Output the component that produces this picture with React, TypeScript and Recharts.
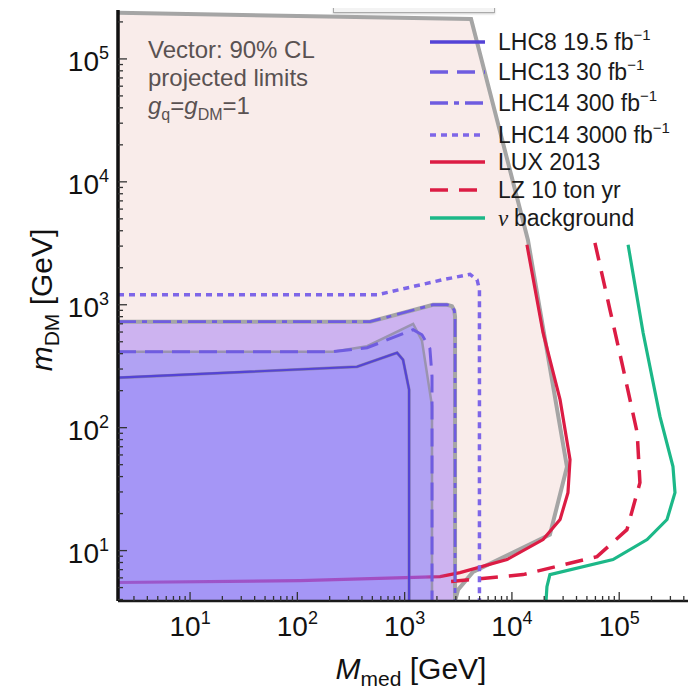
import React from 'react';
import { ComposedChart, Area, Line, XAxis, YAxis } from 'recharts';

// ---- axis ranges & ticks ----
const X_MIN = 2.13;
const X_MAX = 1e6;
const Y_MIN = 3.89;
const Y_MAX = 2.5e5;
const MAJOR_TICKS = [10, 100, 1000, 10000, 100000];
const TICK_EXPONENTS = ['1', '2', '3', '4', '5'];
const MINOR_MULTIPLIERS = [2, 3, 4, 5, 6, 7, 8, 9];
const DECADES = [1, 10, 100, 1000, 10000, 100000];

// ---- data (M_med [GeV], m_DM [GeV]) ----
const allowedRegion = [
  { x: 2.13, y: 2.37e5 }, { x: 4160, y: 2.11e5 }, { x: 14100, y: 3370 }, { x: 32600, y: 48 },
  { x: 22600, y: 13.5 }, { x: 4340, y: 6.7 }, { x: 3150, y: 4.8 }, { x: 2950, y: 3.89 },
];
const lhc14_300 = [
  { x: 2.13, y: 728 }, { x: 476, y: 728 }, { x: 1840, y: 1000 }, { x: 2480, y: 1000 },
  { x: 2760, y: 975 }, { x: 2900, y: 900 }, { x: 2950, y: 800 }, { x: 2950, y: 3.89 },
];
const lhc13Region = [
  { x: 2.13, y: 415 }, { x: 215, y: 415 }, { x: 447, y: 460 }, { x: 1200, y: 700 },
  { x: 1450, y: 510 }, { x: 1800, y: 150 }, { x: 1800, y: 3.89 },
];
const lhc13 = [
  { x: 2.13, y: 415 }, { x: 215, y: 415 }, { x: 447, y: 447 }, { x: 1200, y: 627 },
  { x: 1450, y: 570 }, { x: 1720, y: 440 }, { x: 1800, y: 260 }, { x: 1800, y: 3.89 },
];
const lhc8 = [
  { x: 2.13, y: 255 }, { x: 360, y: 313 }, { x: 850, y: 407 }, { x: 966, y: 357 },
  { x: 1100, y: 204 }, { x: 1100, y: 3.89 },
];
const lhc14_3000 = [
  { x: 2.13, y: 1205 }, { x: 553, y: 1205 }, { x: 2280, y: 1600 }, { x: 4070, y: 1770 },
  { x: 4730, y: 1600 }, { x: 4980, y: 1330 }, { x: 4980, y: 3.89 },
];
const lux2013 = [
  { x: 13800, y: 3080 }, { x: 19500, y: 592 }, { x: 28100, y: 169 }, { x: 34800, y: 55 },
  { x: 33300, y: 29.6 }, { x: 28100, y: 17.9 }, { x: 19500, y: 12.3 }, { x: 9000, y: 8.45 },
  { x: 3280, y: 6.62 }, { x: 2140, y: 6.15 }, { x: 106, y: 5.7 }, { x: 2.13, y: 5.5 },
];
const lz10 = [
  { x: 59400, y: 3190 }, { x: 82000, y: 910 }, { x: 108000, y: 313 }, { x: 147000, y: 91 },
  { x: 156000, y: 35.7 }, { x: 118000, y: 14.8 }, { x: 62100, y: 8.93 }, { x: 12700, y: 6.38 },
  { x: 2650, y: 5.6 },
];
const nuBackground = [
  { x: 121000, y: 3080 }, { x: 167000, y: 592 }, { x: 240000, y: 123 }, { x: 317000, y: 48.2 },
  { x: 331000, y: 29.6 }, { x: 279000, y: 17.9 }, { x: 182000, y: 12.3 }, { x: 87500, y: 8.45 },
  { x: 22600, y: 6.38 }, { x: 21200, y: 5.09 }, { x: 20800, y: 3.89 },
];

const LEGEND_LABELS = ['LHC8 19.5 fb', 'LHC13 30 fb', 'LHC14 300 fb', 'LHC14 3000 fb', 'LUX 2013', 'LZ 10 ton yr', 'background'];
const INFO_LINES = ['Vector: 90% CL', 'projected limits'];

// ---- styles ----
const FONT = '"Liberation Sans", Arial, Helvetica, sans-serif';
const PURPLE_DARK = '#5443d6';
const PURPLE = '#6f5ce0';
const PURPLE_LIGHT = '#7e66e8';
const RED = '#dc1c44';
const GREEN = '#1cb888';
const GRAY = '#a5a5a5';

const LEGEND_STYLES = [
  { color: PURPLE_DARK, dash: undefined },
  { color: PURPLE, dash: '18 9' },
  { color: PURPLE, dash: '18 6 5 6' },
  { color: PURPLE_LIGHT, dash: '6 5' },
  { color: RED, dash: undefined },
  { color: RED, dash: '18 11' },
  { color: GREEN, dash: undefined },
];

function buildTicks(lo: number, hi: number) {
  const out: number[] = [];
  DECADES.forEach((d) => {
    if (d >= lo && d <= hi) out.push(d);
    MINOR_MULTIPLIERS.forEach((m) => {
      const v = m * d;
      if (v >= lo && v <= hi) out.push(v);
    });
  });
  return out;
}
const X_TICKS = buildTicks(X_MIN, X_MAX);
const Y_TICKS = buildTicks(Y_MIN, Y_MAX);

const majorIndex = (v: number) => MAJOR_TICKS.findIndex((t) => Math.abs(t - v) / t < 1e-6);

const BottomTick = (props: any) => {
  const { x, y, payload } = props;
  const i = majorIndex(payload.value);
  return (
    <g>
      <line x1={x} x2={x} y1={y} y2={y - (i >= 0 ? 9 : 5)} stroke="#333" strokeWidth={1.3} />
      {i >= 0 && (
        <text x={x} y={y + 35} textAnchor="middle" fontFamily={FONT} fontSize={28} fill="#111">
          10<tspan dy={-12} fontSize={18}>{TICK_EXPONENTS[i]}</tspan>
        </text>
      )}
    </g>
  );
};

const TopTick = (props: any) => {
  const { x, y, payload } = props;
  const i = majorIndex(payload.value);
  return <line x1={x} x2={x} y1={y} y2={y + (i >= 0 ? 9 : 5)} stroke="#555" strokeWidth={1.3} />;
};

const LeftTick = (props: any) => {
  const { x, y, payload } = props;
  const i = majorIndex(payload.value);
  return (
    <g>
      <line x1={x} x2={x + (i >= 0 ? 9 : 5)} y1={y} y2={y} stroke="#333" strokeWidth={1.3} />
      {i >= 0 && (
        <text x={x - 9} y={y + 12} textAnchor="end" fontFamily={FONT} fontSize={28} fill="#111">
          10<tspan dy={-12} fontSize={18}>{TICK_EXPONENTS[i]}</tspan>
        </text>
      )}
    </g>
  );
};

const Overlay = () => (
  <svg width={688} height={688} style={{ position: 'absolute', left: 0, top: 0, pointerEvents: 'none' }}>
    <g fontFamily={FONT}>
      <text x={140} y={50} fontSize={24} fill="#5a5252">{INFO_LINES[0]}</text>
      <text x={140} y={78} fontSize={24} fill="#5a5252">{INFO_LINES[1]}</text>
      <text x={140} y={106} fontSize={24} fill="#5a5252">
        <tspan fontStyle="italic">g</tspan>
        <tspan dy={6} fontSize={16}>q</tspan>
        <tspan dy={-6}>=</tspan>
        <tspan fontStyle="italic">g</tspan>
        <tspan dy={6} fontSize={16}>DM</tspan>
        <tspan dy={-6}>=1</tspan>
      </text>
      {LEGEND_LABELS.map((lab, i) => {
        const cy = [34, 64, 95, 127, 154, 182, 210][i];
        const st = LEGEND_STYLES[i];
        return (
          <g key={lab}>
            <line x1={422} x2={477} y1={cy} y2={cy} stroke={st.color} strokeWidth={3.5} strokeDasharray={st.dash} />
            <text x={490} y={cy + 8} fontSize={23} fill="#1a1a1a">
              {i === 6 && <tspan fontStyle="italic" fontFamily='"Liberation Serif", serif'>ν </tspan>}
              {lab}
              {i < 4 && <tspan dy={-10} fontSize={15}>−1</tspan>}
            </text>
          </g>
        );
      })}
      <text x={403} y={671} textAnchor="middle" fontSize={30} fill="#111">
        <tspan fontStyle="italic">M</tspan>
        <tspan dy={7} fontSize={21}>med</tspan>
        <tspan dy={-7}> [GeV]</tspan>
      </text>
      <text transform="translate(44,292) rotate(-90)" textAnchor="middle" fontSize={30} fill="#111">
        <tspan fontStyle="italic">m</tspan>
        <tspan dy={7} fontSize={21}>DM</tspan>
        <tspan dy={-7}> [GeV]</tspan>
      </text>
    </g>
  </svg>
);

export default function App() {
  return (
    <div style={{ position: 'relative', width: 688, height: 688 }}>
      <div style={{ width: 688, height: 688, overflow: 'hidden' }}>
        <ComposedChart width={720} height={688} margin={{ top: 2, right: 1.5, bottom: 0, left: 0 }}>
          <defs>
            <linearGradient id="luxGrad" x1="0" x2="1" y1="0" y2="0">
              <stop offset="0" stopColor="#9a58cc" />
              <stop offset="0.68" stopColor="#a44cc0" />
              <stop offset="0.73" stopColor={RED} />
              <stop offset="1" stopColor={RED} />
            </linearGradient>
          </defs>
          <XAxis
            xAxisId={0} dataKey="x" type="number" scale="log" domain={[X_MIN, X_MAX]} allowDataOverflow
            ticks={X_TICKS} interval={0} tick={<BottomTick />} tickLine={false} tickSize={0} tickMargin={0}
            height={95} axisLine={{ stroke: '#1a1a1a', strokeWidth: 2.5 }}
          />
          <XAxis
            xAxisId="top" orientation="top" dataKey="x" type="number" scale="log" domain={[X_MIN, X_MAX]}
            allowDataOverflow ticks={X_TICKS} interval={0} tick={<TopTick />} tickLine={false} tickSize={0}
            tickMargin={0} height={0} axisLine={{ stroke: '#666', strokeWidth: 2 }}
          />
          <YAxis
            dataKey="y" type="number" scale="log" domain={[Y_MIN, Y_MAX]} allowDataOverflow
            ticks={Y_TICKS} interval={0} tick={<LeftTick />} tickLine={false} tickSize={0} tickMargin={0}
            width={110} axisLine={{ stroke: '#111', strokeWidth: 3.5 }}
          />
          <Area data={allowedRegion} dataKey="y" type="linear" baseValue={Y_MIN} fill="#f9ecea" fillOpacity={1}
            stroke={GRAY} strokeWidth={4} isAnimationActive={false} />
          <Area data={lhc14_300} dataKey="y" type="linear" baseValue={Y_MIN} fill="#cdb3f0" fillOpacity={1}
            stroke={GRAY} strokeWidth={4} isAnimationActive={false} />
          <Area data={lhc13Region} dataKey="y" type="linear" baseValue={Y_MIN} fill="#b1a2f3" fillOpacity={1}
            stroke="#9a93b0" strokeWidth={2.5} isAnimationActive={false} />
          <Area data={lhc8} dataKey="y" type="linear" baseValue={Y_MIN} fill="#a596f6" fillOpacity={1}
            stroke="#8a82a8" strokeWidth={3} isAnimationActive={false} />
          <Line data={lux2013} dataKey="y" type="linear" stroke="url(#luxGrad)" strokeWidth={3.2} dot={false} isAnimationActive={false} />
          <Line data={lz10} dataKey="y" type="linear" stroke={RED} strokeWidth={3.5} strokeDasharray="18 11" dot={false} isAnimationActive={false} />
          <Line data={nuBackground} dataKey="y" type="linear" stroke={GREEN} strokeWidth={3.2} dot={false} isAnimationActive={false} />
          <Line data={lhc14_300} dataKey="y" type="linear" stroke={PURPLE} strokeWidth={2.8} strokeDasharray="18 6 5 6" dot={false} isAnimationActive={false} />
          <Line data={lhc13} dataKey="y" type="linear" stroke={PURPLE} strokeWidth={3} strokeDasharray="18 9" dot={false} isAnimationActive={false} />
          <Line data={lhc8} dataKey="y" type="linear" stroke={PURPLE_DARK} strokeWidth={2.2} dot={false} isAnimationActive={false} />
          <Line data={lhc14_3000} dataKey="y" type="linear" stroke={PURPLE_LIGHT} strokeWidth={3.5} strokeDasharray="6 5" dot={false} isAnimationActive={false} />
        </ComposedChart>
      </div>
      <Overlay />
      <div
        style={{
          position: 'absolute', top: -8, left: 325, width: 160, height: 11,
          border: '1px solid #aaa', background: '#f3f3f3', boxShadow: '0 1px 2px #ccc',
        }}
      />
    </div>
  );
}
